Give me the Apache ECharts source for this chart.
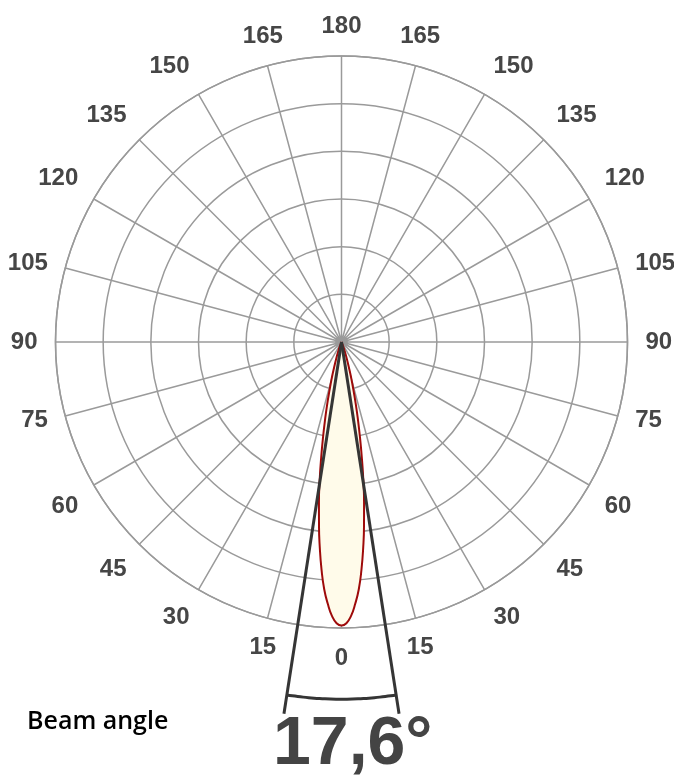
<!DOCTYPE html>
<html><head><meta charset="utf-8">
<script src="https://cdn.jsdelivr.net/npm/echarts@6/dist/echarts.min.js"></script>
<style>html,body{margin:0;padding:0;background:#fff}#c{width:674px;height:775px}</style>
</head><body><div id="c"></div>
<script>
// Luminous intensity curve (relative, max ring = 120)
const lobeAngles = [0, 1, 2, 3, 4, 5, 6, 7, 8, 9, 10, 11, 12, 13, 14, 15, 16, 18, 20, 25, 30];
const lobeValues = [119, 118, 115, 110, 104, 96, 87, 77.5, 68, 58.5, 49, 40.5, 33, 26.5, 20.5, 16, 12, 6.5, 3.2, 0.4, 0];
const beamAngle = 17.6;
const beamLabel = '17,6°';
const beamTitle = 'Beam angle';
const angleTicks = [0, 15, 30, 45, 60, 75, 90, 105, 120, 135, 150, 165, 180];

const lobeData = [];
for (let i = lobeAngles.length - 1; i > 0; i--) lobeData.push([lobeValues[i], 360 - lobeAngles[i]]);
for (let i = 0; i < lobeAngles.length; i++) lobeData.push([lobeValues[i], lobeAngles[i]]);

const half = beamAngle / 2;
const arcData = [];
for (let k = 0; k <= 20; k++) { const a = -half + beamAngle * k / 20; arcData.push([150, a < 0 ? 360 + a : a]); }

const grid = '#9a9a9a';
const chart = echarts.init(document.getElementById('c'), null, {renderer: 'canvas'});
chart.setOption({
  animation: false,
  polar: [
    {center: [341.5, 342], radius: 286},
    {center: [341.5, 342], radius: 381}
  ],
  angleAxis: [
    {polarIndex: 0, type: 'value', min: 0, max: 360, interval: 15, startAngle: -90, clockwise: true,
     axisLine: {show: true, lineStyle: {color: grid, width: 1.5}},
     axisTick: {show: false},
     splitLine: {show: true, lineStyle: {color: grid, width: 1.5}},
     axisLabel: {show: true, margin: 18, color: '#464646', fontSize: 24, fontWeight: 'bold', fontFamily: 'Liberation Sans',
       formatter: v => { if (v >= 360) return ''; const t = v > 180 ? 360 - v : v; return angleTicks.includes(t) ? String(t) : ''; }}},
    {polarIndex: 1, type: 'value', min: 0, max: 360, startAngle: -90, clockwise: true, show: false}
  ],
  radiusAxis: [
    {polarIndex: 0, type: 'value', min: 0, max: 120, interval: 20,
     axisLine: {show: false}, axisTick: {show: false}, axisLabel: {show: false},
     splitLine: {show: true, lineStyle: {color: grid, width: 1.5}}},
    {polarIndex: 1, type: 'value', min: 0, max: 160, show: false}
  ],
  series: [
    {type: 'line', coordinateSystem: 'polar', polarIndex: 0, data: lobeData, smooth: true, symbol: 'none',
     lineStyle: {color: '#9e0a0a', width: 2}, areaStyle: {color: '#fffbea', opacity: 1}, z: 3},
    {type: 'line', coordinateSystem: 'polar', polarIndex: 1, data: [[0, 360 - half], [158, 360 - half]], symbol: 'none',
     lineStyle: {color: '#353535', width: 3}, clip: false, z: 4},
    {type: 'line', coordinateSystem: 'polar', polarIndex: 1, data: [[0, half], [158, half]], symbol: 'none',
     lineStyle: {color: '#353535', width: 3}, clip: false, z: 4},
    {type: 'line', coordinateSystem: 'polar', polarIndex: 1, data: arcData, symbol: 'none', smooth: true,
     lineStyle: {color: '#353535', width: 3}, clip: false, z: 4}
  ],
  graphic: [
    {type: 'text', left: 27, top: 709, style: {text: beamTitle, fontSize: 25, fontWeight: 600, fontFamily: 'Open Sans', fill: '#000'}},
    {type: 'text', left: 273, top: 711, z: 10, style: {text: beamLabel, fontSize: 68, fontWeight: 'bold', fontFamily: 'Liberation Sans', fill: '#444'}}
  ]
});
</script></body></html>
